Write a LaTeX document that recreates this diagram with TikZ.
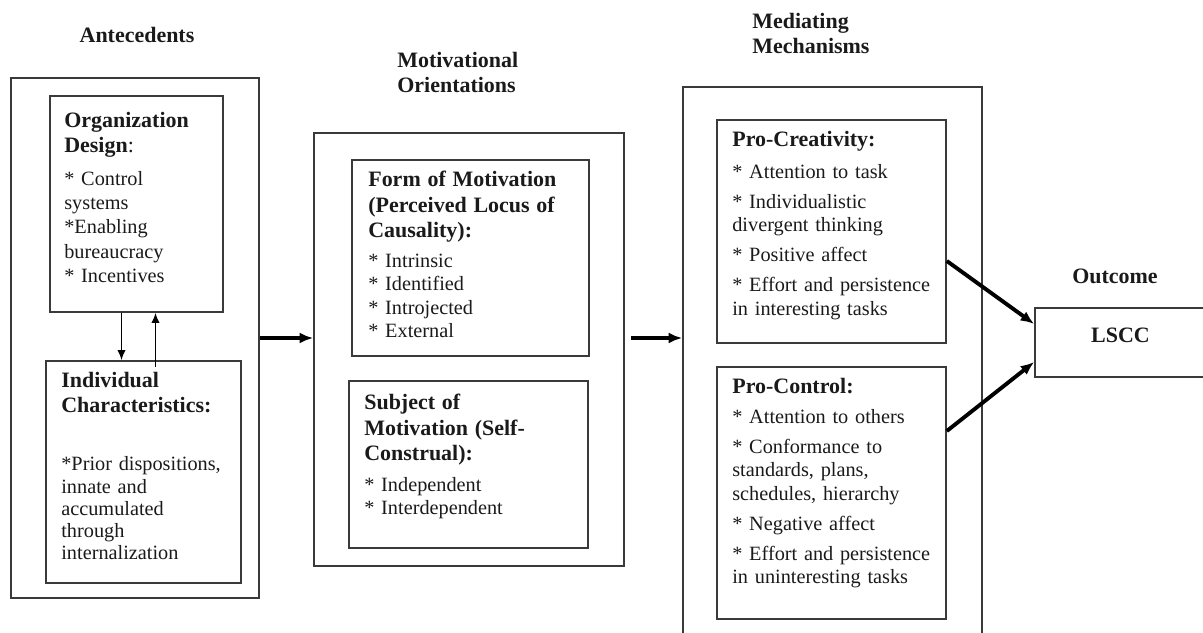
\documentclass[tikz,border=0pt]{standalone}
\usepackage{fontspec}
\setmainfont{Liberation Serif}
\usepackage{tikz}
\usetikzlibrary{arrows.meta}
\usetikzlibrary{fit}
\tikzset{>={Latex[length=6pt,width=5pt]}}
\definecolor{frameline}{HTML}{3A3A3A}
\definecolor{inktext}{HTML}{1A1A1A}
\newcommand{\diaghead}{\fontsize{13}{15}\selectfont\bfseries}
\newcommand{\diagbody}{\fontsize{12}{13.9}\selectfont}
\tikzset{
  frame/.style={draw=frameline, line width=1pt, inner sep=0pt},
  blurb/.style={anchor=north west, inner sep=0pt, align=left, text width=#1, font=\diagbody, text=inktext},
  blurb/.default=150pt,
  heading/.style={font=\diaghead, inner sep=0pt, text=inktext},
  thinarrow/.style={->, line width=0.9pt, black},
  flowarrow/.style={-{Latex[length=8pt,width=6.5pt]}, line width=2.3pt, black},
}

\begin{document}
\begin{tikzpicture}[x=0.0208cm, y=-0.0208cm]
\clip (0,0) rectangle (1203,633);

\node[heading, anchor=base] (antelabel) at (137,42) {Antecedents};
\node[heading, anchor=north west, align=left] (molabel) at (397,52) {Motivational\\ Orientations};
\node[heading, anchor=north west, align=left] (mmlabel) at (752,13) {Mediating\\ Mechanisms};
\node[heading, anchor=base] (outlabel) at (1115,283) {Outcome};

\node[frame, fit={(11,78) (259,598)}] (ante) {};
\node[frame, fit={(50,96) (223,312)}] (org) {};
\node[frame, fit={(46,361) (241,583)}] (indiv) {};
\node[frame, fit={(314,133) (624,566)}] (mo) {};
\node[frame, fit={(352,160) (589,356)}] (form) {};
\node[frame, fit={(349,381) (588,548)}] (subj) {};
\node[frame, fit={(683,87) (982,660)}] (mm) {};
\node[frame, fit={(717,120) (946,343)}] (pcre) {};
\node[frame, fit={(717,367) (946,619)}] (pctl) {};
\node[frame, fit={(1035,308) (1206,377)}, font=\diaghead, text=inktext] (lscc) {LSCC};

\node[blurb, font=\fontsize{12}{14.3}\selectfont] (orgtxt) at (64,112) {{\diaghead Organization\\ Design{\mdseries:}\par}\vspace{5pt}
  {*} Control\\ systems\\ {*}Enabling\\ bureaucracy\\ {*} Incentives};
\node[blurb, font=\fontsize{12}{13.2}\selectfont] (indivtxt) at (61,372) {{\diaghead Individual\\ Characteristics:\par}\vspace{21pt}
  {*}Prior dispositions,\\ innate and\\ accumulated\\ through\\ internalization};
\node[blurb] (formtxt) at (368,171) {{\diaghead Form of Motivation\\ (Perceived Locus of\\ Causality):\par}\vspace{3.8pt}
  {*} Intrinsic\\ {*} Identified\\ {*} Introjected\\ {*} External};
\node[blurb] (subjtxt) at (364,394) {{\diaghead Subject of\\ Motivation (Self-\\ Construal):\par}\vspace{4.4pt}
  {*} Independent\\ {*} Interdependent};
\node[blurb] (pcretxt) at (732,131) {{\diaghead Pro-Creativity:\par}\vspace{5pt}
  {*} Attention to task\\[3.8pt] {*} Individualistic\\ divergent thinking\\[3.8pt] {*} Positive affect\\[3.8pt]
  {*} Effort and persistence\\ in interesting tasks};
\node[blurb] (pctltxt) at (732,378) {{\diaghead Pro-Control:\par}\vspace{3.8pt}
  {*} Attention to others\\[3.8pt] {*} Conformance to\\ standards, plans,\\ schedules, hierarchy\\[3.8pt]
  {*} Negative affect\\[3.8pt] {*} Effort and persistence\\ in uninteresting tasks};

\coordinate (dn) at ([shift={(-15,0)}]org.south);
\coordinate (up) at ([shift={(19,0)}]org.south);
\coordinate (upfoot) at (up |- indiv.north);
\draw[thinarrow] (dn) -- (dn |- indiv.north);
\draw[thinarrow] ([shift={(0,7)}]upfoot) -- (up);

\coordinate (mogate) at (mo.east |- ante.east);
\draw[flowarrow] (ante.east) -- (ante.east -| mo.west);
\draw[flowarrow] ([shift={(6,0)}]mogate) -- (mogate -| mm.west);
\draw[flowarrow] ([shift={(0,29.5)}]pcre.east) -- ([shift={(0,-18.5)}]lscc.west);
\draw[flowarrow] ([shift={(0,-62)}]pctl.east) -- ([shift={(0,19.5)}]lscc.west);
\end{tikzpicture}
\end{document}
